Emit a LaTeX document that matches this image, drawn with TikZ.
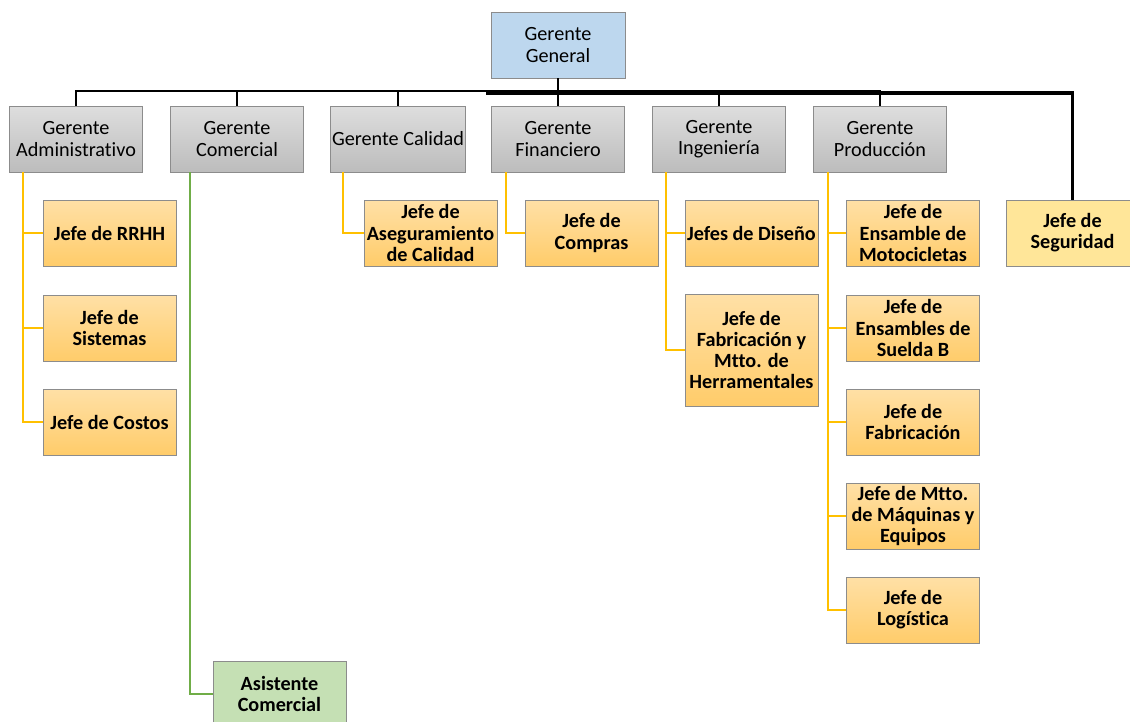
\documentclass[tikz,border=0pt]{standalone}
\usepackage{fontspec}
\setmainfont[Ligatures=NoCommon]{Carlito}
\usepackage{tikz}

\definecolor{boxline}{HTML}{8C8C8C}
\definecolor{jefeline}{HTML}{FFC000}
\definecolor{asisline}{HTML}{70AD47}
\definecolor{generalfill}{HTML}{BDD7EE}
\definecolor{grisarriba}{HTML}{DEDEDE}
\definecolor{grisabajo}{HTML}{BCBCBC}
\definecolor{jefearriba}{HTML}{FFE0A6}
\definecolor{jefeabajo}{HTML}{FFCC6A}
\definecolor{segfill}{HTML}{FFE699}
\definecolor{asisfill}{HTML}{C5E0B4}

\tikzset{
  caja/.style={draw=boxline, minimum width=2.66cm, minimum height=1.32cm,
    align=center, inner sep=1pt, font=\fontsize{11.5}{12}\selectfont},
  general/.style={caja, fill=generalfill},
  gerente/.style={caja, top color=grisarriba, bottom color=grisabajo},
  jefe/.style={caja, top color=jefearriba, bottom color=jefeabajo,
    font=\fontsize{11.5}{12}\selectfont\bfseries},
  seguridad/.style={caja, fill=segfill, font=\fontsize{11.5}{12}\selectfont\bfseries},
  asistente/.style={caja, fill=asisfill, font=\fontsize{11.5}{12}\selectfont\bfseries},
  bus/.style={line width=1.4pt},
  jline/.style={draw=jefeline, line width=1.1pt},
  aline/.style={draw=asisline, line width=1.1pt}
}

\begin{document}
\begin{tikzpicture}[x=0.02cm, y=-0.02cm]
  \useasboundingbox (0,0) rectangle (1130,722);

  % Gerencia general
  \node[general, minimum width=2.68cm] (gg) at (558,45) {Gerente\\General};
  \coordinate (bus) at (558,91);
  \coordinate (busder) at (486,93);

  % Gerentes
  \node[gerente] (ga) at (76,139) {Gerente\\Administrativo};
  \node[gerente] (gc) at (237,139) {Gerente\\Comercial};
  \node[gerente] (gcal) at (398,139) {Gerente Calidad};
  \node[gerente] (gf) at (558,139) {Gerente\\Financiero};
  \node[gerente] (gi) at (719,139) {Gerente\\Ingenier\'ia};
  \node[gerente] (gp) at (880,139) {Gerente\\Producci\'on};

  % Jefes
  \node[jefe] (rrhh) at (109.5,233) {Jefe de RRHH};
  \node[jefe] (sist) at (109.5,328) {Jefe de\\Sistemas};
  \node[jefe] (cost) at (109.5,422) {Jefe de Costos};
  \node[asistente] (asis) at (279.5,694) {Asistente\\Comercial};
  \node[jefe] (aseg) at (430.5,233) {Jefe de\\Aseguramiento\\de Calidad};
  \node[jefe] (comp) at (591.5,233) {Jefe de\\Compras};
  \node[jefe] (dis) at (751.5,233) {Jefes de Dise\~no};
  \node[jefe, minimum height=2.24cm] (herr) at (751.5,350) {Jefe de\\Fabricaci\'on y\\Mtto. de\\Herramentales};
  \node[jefe] (moto) at (913,233) {Jefe de\\Ensamble de\\Motocicletas};
  \node[jefe] (suel) at (913,328) {Jefe de\\Ensambles de\\Suelda B};
  \node[jefe] (fab) at (913,422) {Jefe de\\Fabricaci\'on};
  \node[jefe] (maq) at (913,516) {Jefe de Mtto.\\de M\'aquinas y\\Equipos};
  \node[jefe] (log) at (913,610) {Jefe de\\Log\'istica};
  \node[seguridad] (seg) at (1072.5,233) {Jefe de\\Seguridad};

  % Lineas a gerentes
  \draw[bus, line width=2.2pt] (seg.north) |- (busder);
  \draw[bus] (gg) -- (gf);
  \draw[bus] (ga.north) |- (bus);
  \draw[bus] (gc.north) |- (bus);
  \draw[bus] (gcal.north) |- (bus);
  \draw[bus] (gi.north) |- (bus);
  \draw[bus] (gp.north) |- (bus);

  % Lineas a jefes
  \draw[jline] (rrhh.west) -| ([xshift=0.27cm]ga.south west);
  \draw[jline] (sist.west) -| ([xshift=0.27cm]ga.south west);
  \draw[jline] (cost.west) -| ([xshift=0.27cm]ga.south west);
  \draw[aline] (asis.west) -| ([xshift=0.39cm]gc.south west);
  \draw[jline] (aseg.west) -| ([xshift=0.27cm]gcal.south west);
  \draw[jline] (comp.west) -| ([xshift=0.29cm]gf.south west);
  \draw[jline] (dis.west) -| ([xshift=0.27cm]gi.south west);
  \draw[jline] (herr.west) -| ([xshift=0.27cm]gi.south west);
  \draw[jline] (moto.west) -| ([xshift=0.29cm]gp.south west);
  \draw[jline] (suel.west) -| ([xshift=0.29cm]gp.south west);
  \draw[jline] (fab.west) -| ([xshift=0.29cm]gp.south west);
  \draw[jline] (maq.west) -| ([xshift=0.29cm]gp.south west);
  \draw[jline] (log.west) -| ([xshift=0.29cm]gp.south west);
\end{tikzpicture}
\end{document}
